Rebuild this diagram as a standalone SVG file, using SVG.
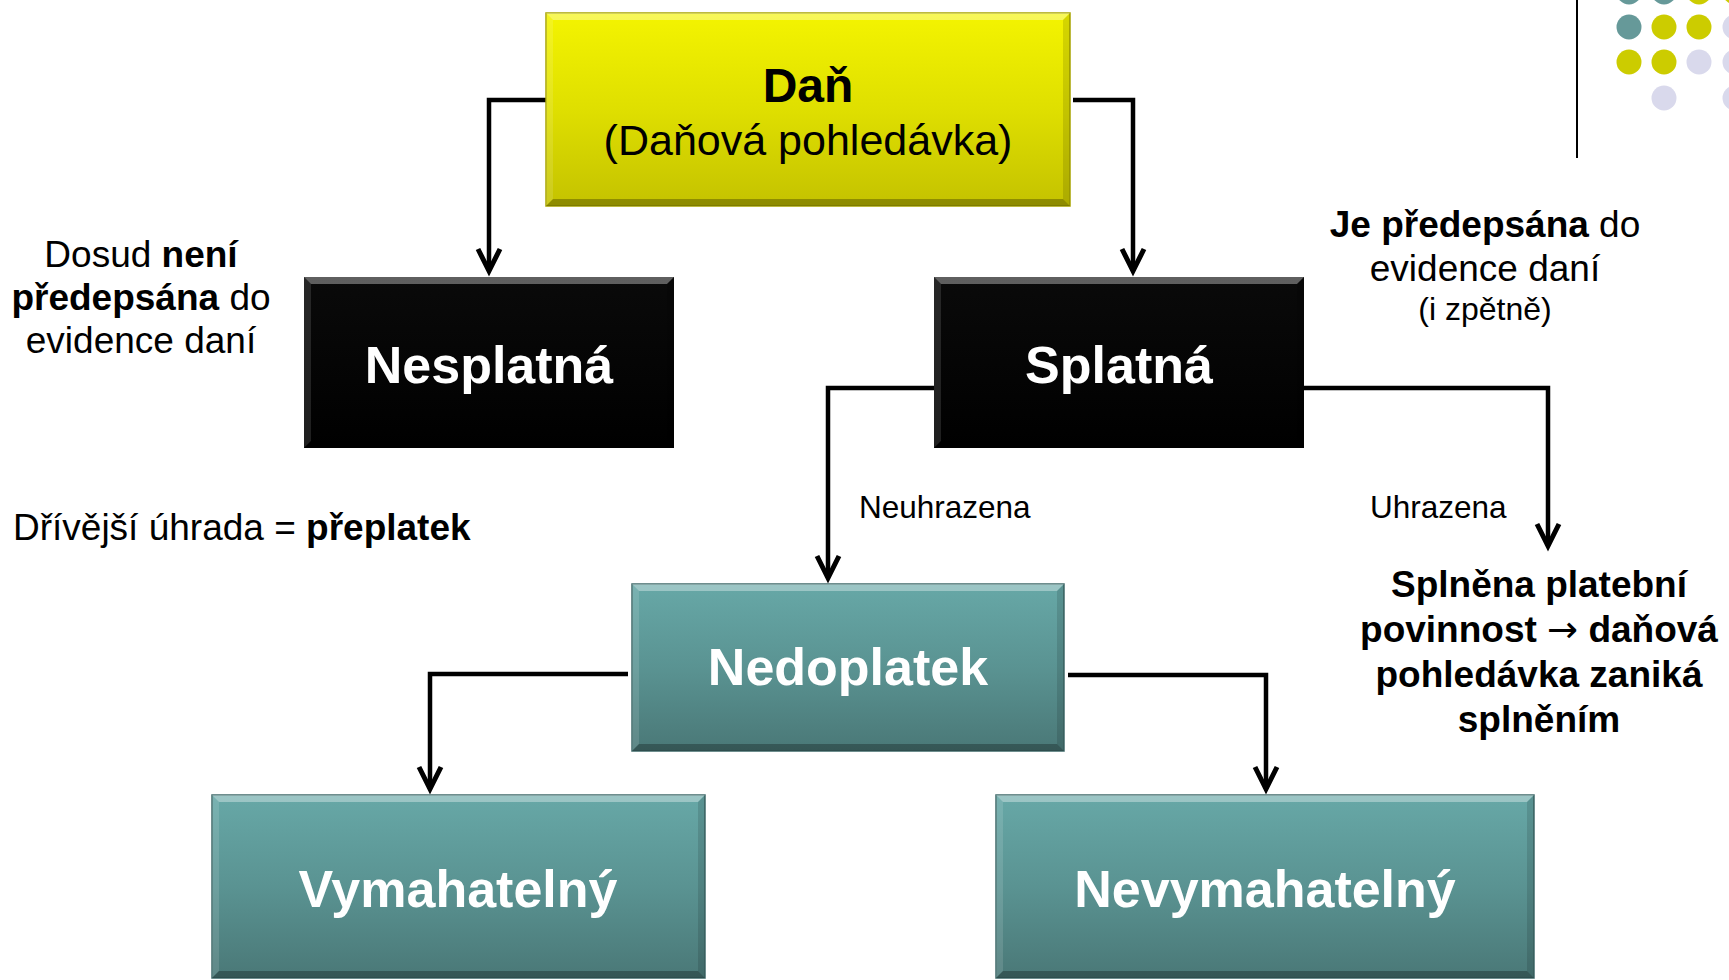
<svg xmlns="http://www.w3.org/2000/svg" width="1729" height="980" viewBox="0 0 1729 980">
<style>
text{font-family:"Liberation Sans",Arial,sans-serif;fill:#000}
.node{font-weight:bold;font-size:52px;fill:#fff;text-anchor:middle}
.lbl{font-size:31.5px}
.note{font-size:37px;text-anchor:middle}
.sm{font-size:32px}
.b{font-weight:bold}
.arw{font-family:"DejaVu Sans",sans-serif;font-weight:normal}
.conn{fill:none;stroke:#000;stroke-width:4.5;stroke-linejoin:miter;marker-end:url(#arr)}
.bt{fill:#fff;opacity:.35}
.bl{fill:#fff;opacity:.12}
.br{fill:#000;opacity:.12}
.bb{fill:#000;opacity:.28}
.teal{fill:#669999}
.yel{fill:#cccc00}
.lav{fill:#d9d9ec}
</style>
<defs>
<linearGradient id="gY" x1="0" y1="0" x2="0" y2="1">
<stop offset="0" stop-color="#f4f400"/>
<stop offset="0.5" stop-color="#dfdf00"/>
<stop offset="1" stop-color="#c4c200"/>
</linearGradient>
<linearGradient id="gK" x1="0" y1="0" x2="0" y2="1">
<stop offset="0" stop-color="#0a0a0a"/>
<stop offset="1" stop-color="#000"/>
</linearGradient>
<linearGradient id="gT" x1="0" y1="0" x2="0" y2="1">
<stop offset="0" stop-color="#67a8a7"/>
<stop offset="0.5" stop-color="#5a9392"/>
<stop offset="1" stop-color="#4a7877"/>
</linearGradient>
<marker id="arr" markerUnits="userSpaceOnUse" viewBox="-30 -16 38 32" refX="0" refY="0" markerWidth="38" markerHeight="32" orient="auto">
<path d="M-22,-11 L0,0 L-22,11" fill="none" stroke="#000" stroke-width="5" stroke-linejoin="miter"/>
</marker>
</defs>
<rect width="1729" height="980" fill="#fff"/>

<g id="decor">
<line x1="1577" y1="0" x2="1577" y2="158" stroke="#000" stroke-width="2"/>
<circle class="teal" cx="1629" cy="-8" r="12.5"/>
<circle class="teal" cx="1664" cy="-8" r="12.5"/>
<circle class="yel" cx="1699" cy="-8" r="12.5"/>
<circle class="yel" cx="1735" cy="-8" r="12.5"/>
<circle class="teal" cx="1629" cy="27" r="12.5"/>
<circle class="yel" cx="1664" cy="27" r="12.5"/>
<circle class="yel" cx="1699" cy="27" r="12.5"/>
<circle class="lav" cx="1735" cy="27" r="12.5"/>
<circle class="yel" cx="1629" cy="62" r="12.5"/>
<circle class="yel" cx="1664" cy="62" r="12.5"/>
<circle class="lav" cx="1699" cy="62" r="12.5"/>
<circle class="lav" cx="1735" cy="62" r="12.5"/>
<circle class="lav" cx="1664" cy="98" r="12.5"/>
<circle class="lav" cx="1735" cy="98" r="12.5"/>
</g>

<g id="connectors">
<path class="conn" d="M546,100 H489 V271"/>
<path class="conn" d="M1073,100 H1133 V271"/>
<path class="conn" d="M934,388 H828 V578"/>
<path class="conn" d="M1304,388 H1548 V546"/>
<path class="conn" d="M628,674 H430 V789"/>
<path class="conn" d="M1068,675 H1266 V789"/>
</g>

<g id="dan">
<rect x="546" y="13" width="524" height="193" fill="url(#gY)" stroke="#a8a400" stroke-width="1.5"/>
<polygon class="bt" points="546,13 1070,13 1063,20 553,20"/>
<polygon class="bl" points="546,13 553,20 553,199 546,206"/>
<polygon class="br" points="1070,13 1070,206 1063,199 1063,20"/>
<polygon class="bb" points="546,206 553,199 1063,199 1070,206"/>
<text x="808" y="102" text-anchor="middle" font-size="48" font-weight="bold">Daň</text>
<text x="808" y="155" text-anchor="middle" font-size="43">(Daňová pohledávka)</text>
</g>

<g id="nesplatna">
<rect x="304" y="277" width="370" height="171" fill="url(#gK)"/>
<polygon class="bt" points="304,277 674,277 667,284 311,284"/>
<polygon class="bl" points="304,277 311,284 311,441 304,448"/>
<polygon class="br" points="674,277 674,448 667,441 667,284"/>
<polygon class="bb" points="304,448 311,441 667,441 674,448"/>
<text class="node" x="489" y="383">Nesplatná</text>
</g>

<g id="splatna">
<rect x="934" y="277" width="370" height="171" fill="url(#gK)"/>
<polygon class="bt" points="934,277 1304,277 1297,284 941,284"/>
<polygon class="bl" points="934,277 941,284 941,441 934,448"/>
<polygon class="br" points="1304,277 1304,448 1297,441 1297,284"/>
<polygon class="bb" points="934,448 941,441 1297,441 1304,448"/>
<text class="node" x="1119" y="383">Splatná</text>
</g>

<g id="nedoplatek">
<rect x="632" y="584" width="432" height="167" fill="url(#gT)" stroke="#3f6969" stroke-width="1.5"/>
<polygon class="bt" points="632,584 1064,584 1057,591 639,591"/>
<polygon class="bl" points="632,584 639,591 639,744 632,751"/>
<polygon class="br" points="1064,584 1064,751 1057,744 1057,591"/>
<polygon class="bb" points="632,751 639,744 1057,744 1064,751"/>
<text class="node" x="848" y="685">Nedoplatek</text>
</g>

<g id="vymahatelny">
<rect x="212" y="795" width="493" height="183" fill="url(#gT)" stroke="#3f6969" stroke-width="1.5"/>
<polygon class="bt" points="212,795 705,795 698,802 219,802"/>
<polygon class="bl" points="212,795 219,802 219,971 212,978"/>
<polygon class="br" points="705,795 705,978 698,971 698,802"/>
<polygon class="bb" points="212,978 219,971 698,971 705,978"/>
<text class="node" x="458" y="907">Vymahatelný</text>
</g>

<g id="nevymahatelny">
<rect x="996" y="795" width="538" height="183" fill="url(#gT)" stroke="#3f6969" stroke-width="1.5"/>
<polygon class="bt" points="996,795 1534,795 1527,802 1003,802"/>
<polygon class="bl" points="996,795 1003,802 1003,971 996,978"/>
<polygon class="br" points="1534,795 1534,978 1527,971 1527,802"/>
<polygon class="bb" points="996,978 1003,971 1527,971 1534,978"/>
<text class="node" x="1265" y="907">Nevymahatelný</text>
</g>

<g id="labels">
<text class="note" x="141" y="267">Dosud <tspan class="b">není</tspan></text>
<text class="note" x="141" y="310"><tspan class="b">předepsána</tspan> do</text>
<text class="note" x="141" y="353">evidence daní</text>
<text x="13" y="540" font-size="37">Dřívější úhrada = <tspan class="b">přeplatek</tspan></text>
<text class="note" x="1485" y="237"><tspan class="b">Je předepsána</tspan> do</text>
<text class="note" x="1485" y="281">evidence daní</text>
<text class="note sm" x="1485" y="320">(i zpětně)</text>
<text class="lbl" x="859" y="518">Neuhrazena</text>
<text class="lbl" x="1370" y="518">Uhrazena</text>
<text class="note b" x="1539" y="597">Splněna platební</text>
<text class="note b" x="1539" y="642">povinnost <tspan class="arw">→</tspan> daňová</text>
<text class="note b" x="1539" y="687">pohledávka zaniká</text>
<text class="note b" x="1539" y="732">splněním</text>
</g>
</svg>
